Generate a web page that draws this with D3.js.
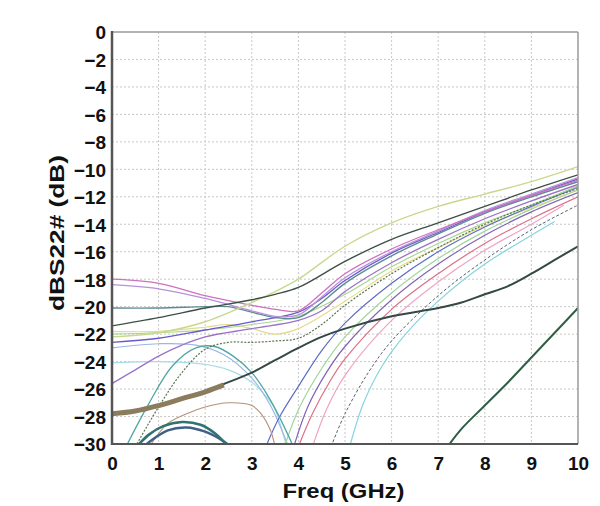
<!DOCTYPE html>
<html>
<head>
<meta charset="utf-8">
<script src="https://cdn.jsdelivr.net/npm/d3@7"></script>
<style>
  html, body { margin: 0; padding: 0; background: #fff; }
  svg { display: block; }
  text { font-family: "Liberation Sans", Arial, sans-serif; font-weight: bold; fill: #111; }
</style>
</head>
<body>
<svg id="chart" width="600" height="506"></svg>
<script>
// ---- tick labels / axis text ----
const xTicks = [0, 1, 2, 3, 4, 5, 6, 7, 8, 9, 10];
const yTicks = [0, -2, -4, -6, -8, -10, -12, -14, -16, -18, -20, -22, -24, -26, -28, -30];
const xTitle = "Freq (GHz)";
const yTitle = "dBS22# (dB)";

// ---- series values: [freq GHz, dB] ----
const sYellowTop   = [[0,-22.2],[1,-21.9],[2,-21.1],[3,-19.7],[3.5,-18.9],[4,-18.0],[5,-15.6],[6,-13.9],[7,-12.7],[8,-11.8],[9,-10.9],[10,-9.8]];
const sDarkTop     = [[0,-21.4],[1,-20.8],[2,-20.1],[3,-19.5],[3.5,-19.1],[4,-18.6],[5,-16.7],[6,-15.1],[7,-13.9],[8,-12.7],[9,-11.5],[10,-10.4]];
const sPink        = [[0,-18.0],[1,-18.3],[2,-19.2],[3,-19.9],[3.5,-20.2],[4,-20.3],[4.5,-19.0],[5,-17.6],[6,-15.8],[7,-14.4],[8,-13.1],[9,-11.9],[10,-10.8]];
const sLilac       = [[0,-18.4],[1,-18.7],[2,-19.4],[3,-20.3],[3.5,-20.7],[4,-20.6],[4.5,-19.3],[5,-17.9],[6,-16.0],[7,-14.5],[8,-13.0],[9,-11.8],[10,-10.6]];
const sTealGray    = [[0,-20.1],[1,-20.1],[2,-20.0],[2.5,-20.0],[3,-20.4],[3.5,-20.8],[4,-20.8],[4.5,-19.7],[5,-18.3],[6,-16.3],[7,-14.7],[8,-13.2],[9,-12.0],[10,-10.9]];
const sSlateBlue   = [[0,-22.6],[1,-22.3],[2,-21.7],[3,-21.1],[4,-20.4],[4.5,-19.4],[5,-18.1],[6,-16.1],[7,-14.6],[8,-13.1],[9,-11.9],[10,-10.7]];
const sPurpleRise  = [[0,-25.6],[0.5,-24.6],[1,-23.6],[1.5,-22.8],[2,-22.2],[3,-21.6],[4,-21.0],[4.5,-20.3],[5,-18.9],[6,-16.8],[7,-15.1],[8,-13.6],[9,-12.3],[10,-11.1]];
const sLightGreen  = [[0,-22.0],[1,-21.9],[2,-21.7],[3,-21.3],[4,-20.7],[5,-19.1],[6,-17.1],[7,-15.4],[8,-13.9],[9,-12.6],[10,-11.2]];
const sYellow      = [[0,-21.8],[1,-21.8],[2,-21.5],[2.5,-21.3],[3,-21.6],[3.5,-22.0],[4,-21.6],[5,-19.6],[6,-17.4],[7,-15.7],[8,-14.1],[9,-12.8],[10,-11.5]];
const sOliveDot    = [[0.5,-30.2],[1,-27.3],[1.5,-24.8],[2,-23.1],[2.5,-22.6],[3,-22.6],[3.5,-22.5],[4,-22.3],[4.5,-21.3],[5,-19.9],[6,-17.6],[7,-15.7],[8,-14.0],[9,-12.6],[10,-11.4]];
const sTealArch    = [[0.3,-30.2],[0.8,-27.0],[1.3,-24.3],[1.8,-23.0],[2.2,-22.9],[2.6,-23.6],[3,-24.8],[3.4,-26.8],[3.8,-29.5],[3.9,-30.3]];
const sLightBlue   = [[0,-23.0],[1,-22.7],[1.8,-22.8],[2.4,-23.5],[3,-25.2],[3.4,-27.2],[3.8,-30.3]];
const sLightCyan   = [[0,-24.1],[1,-24.0],[2,-24.2],[2.5,-24.6],[3,-25.5],[3.3,-26.5],[3.5,-27.5],[3.75,-30.3]];
const sThickDark   = [[0,-27.8],[0.5,-27.6],[1,-27.2],[1.5,-26.7],[2,-26.2],[2.5,-25.5],[3,-24.8],[3.5,-23.9],[4,-23.0],[4.5,-22.2],[5,-21.6],[6,-20.7],[7,-20.1],[7.5,-19.7],[8,-19.1],[8.5,-18.5],[9,-17.6],[9.5,-16.6],[10,-15.6]];
const sBrownMark   = [[0,-27.8],[0.5,-27.6],[1,-27.2],[1.5,-26.7],[2,-26.2],[2.4,-25.7]];
const sArcTeal     = [[0.5,-30.3],[0.8,-29.3],[1.1,-28.7],[1.5,-28.4],[1.9,-28.6],[2.2,-29.2],[2.5,-30.2]];
const sArcBlue     = [[0.6,-30.4],[0.9,-29.6],[1.2,-29.0],[1.6,-28.8],[2.0,-29.1],[2.3,-29.6],[2.6,-30.3]];
const sBrownThin   = [[0.8,-30.2],[1.2,-28.5],[1.6,-27.8],[2,-27.3],[2.5,-27.0],[3,-27.2],[3.2,-27.8],[3.4,-29.0],[3.5,-30.2]];
const sSteepBlue   = [[3.3,-30.2],[3.6,-28.0],[4,-25.8],[4.5,-23.2],[5,-21.2],[6,-18.3],[7,-16.0],[8,-14.2],[9,-12.7],[10,-11.3]];
const sSteepGreen  = [[3.7,-30.2],[4,-27.5],[4.5,-24.5],[5,-22.2],[6,-19.0],[7,-16.5],[8,-14.5],[9,-12.9],[10,-11.5]];
const sSteepPurple = [[3.9,-30.2],[4.2,-27.3],[4.6,-24.8],[5,-22.9],[6,-19.5],[7,-16.9],[8,-14.8],[9,-13.1],[10,-11.7]];
const sSteepPink   = [[4.0,-30.2],[4.3,-27.8],[4.7,-25.3],[5,-23.8],[6,-20.2],[7,-17.6],[8,-15.4],[9,-13.6],[10,-12.0]];
const sSteepRose   = [[4.3,-30.2],[4.6,-27.5],[5,-25.0],[6,-21.0],[7,-18.2],[8,-15.9],[9,-14.0],[9.7,-12.6]];
const sSteepDash   = [[4.7,-30.2],[5,-27.8],[5.5,-24.8],[6,-22.5],[7,-19.2],[8,-16.6],[9,-14.4],[10,-12.6]];
const sSteepCyan   = [[5.1,-30.2],[5.4,-27.0],[5.8,-24.3],[6.3,-22.0],[7,-19.6],[8,-16.9],[9,-14.8],[9.5,-13.8]];
const sLowDark     = [[7.2,-30.2],[7.5,-28.9],[8,-27.2],[8.5,-25.5],[9,-23.7],[9.5,-21.9],[10,-20.1]];

const seriesList = [
  { v: sLightCyan,   c: "#a8dce6", w: 1.2 },
  { v: sLightBlue,   c: "#9bb6e6", w: 1.2 },
  { v: sYellow,      c: "#e4dc8a", w: 1.2 },
  { v: sLightGreen,  c: "#a6d88e", w: 1.2 },
  { v: sSteepCyan,   c: "#86d4dc", w: 1.2 },
  { v: sSteepRose,   c: "#f0a4c4", w: 1.2 },
  { v: sSteepGreen,  c: "#9fd69a", w: 1.2 },
  { v: sSteepDash,   c: "#556270", w: 1.0, d: "3,2" },
  { v: sSteepPink,   c: "#dc6f86", w: 1.2 },
  { v: sSteepPurple, c: "#8064b4", w: 1.2 },
  { v: sSteepBlue,   c: "#5c6cc8", w: 1.2 },
  { v: sBrownThin,   c: "#b4927a", w: 1.1 },
  { v: sTealArch,    c: "#4fa8a0", w: 1.3 },
  { v: sOliveDot,    c: "#5b7452", w: 1.2, d: "2,1.5" },
  { v: sPurpleRise,  c: "#9c72c8", w: 1.3 },
  { v: sSlateBlue,   c: "#6a5acd", w: 1.3 },
  { v: sTealGray,    c: "#5e8a92", w: 1.4 },
  { v: sLilac,       c: "#b592da", w: 1.3 },
  { v: sPink,        c: "#d070c0", w: 1.3 },
  { v: sYellowTop,   c: "#c9d88e", w: 1.4 },
  { v: sDarkTop,     c: "#3d5046", w: 1.4 },
  { v: sArcBlue,     c: "#3f5f86", w: 2.4 },
  { v: sArcTeal,     c: "#2f7472", w: 2.6 },
  { v: sThickDark,   c: "#344846", w: 2.0 },
  { v: sBrownMark,   c: "#8a7c5c", w: 5.0 },
  { v: sLowDark,     c: "#2f5e44", w: 2.0 }
];

// ---- layout ----
const svg = d3.select("#chart");
const m = { left: 112, right: 578, top: 32, bottom: 444 };
const x = d3.scaleLinear().domain([0, 10]).range([m.left, m.right]);
const y = d3.scaleLinear().domain([0, -30]).range([m.top, m.bottom]);

svg.append("defs").append("clipPath").attr("id", "clip")
  .append("rect").attr("x", m.left).attr("y", m.top)
  .attr("width", m.right - m.left).attr("height", m.bottom - m.top);

// grid
const grid = svg.append("g");
grid.selectAll("line.vx").data(xTicks.slice(1, -1)).join("line")
  .attr("x1", d => x(d)).attr("x2", d => x(d))
  .attr("y1", m.top).attr("y2", m.bottom)
  .attr("stroke", "#c8c8c8").attr("stroke-width", 1).attr("stroke-dasharray", "2,2");
grid.selectAll("line.hy").data(yTicks.slice(1, -1)).join("line")
  .attr("y1", d => y(d)).attr("y2", d => y(d))
  .attr("x1", m.left).attr("x2", m.right)
  .attr("stroke", "#c8c8c8").attr("stroke-width", 1).attr("stroke-dasharray", "2,2");

// lines
const line = d3.line().x(d => x(d[0])).y(d => y(d[1])).curve(d3.curveCatmullRom.alpha(0.5));
const lg = svg.append("g").attr("clip-path", "url(#clip)");
lg.selectAll("path").data(seriesList).join("path")
  .attr("d", s => line(s.v))
  .attr("fill", "none")
  .attr("stroke", s => s.c)
  .attr("stroke-width", s => s.w)
  .attr("stroke-dasharray", s => s.d || null)
  .attr("stroke-linejoin", "round");

// frame
svg.append("line").attr("x1", m.left).attr("x2", m.right).attr("y1", m.top).attr("y2", m.top)
  .attr("stroke", "#9a9a9a").attr("stroke-width", 1.5);
svg.append("line").attr("x1", m.right).attr("x2", m.right).attr("y1", m.top).attr("y2", m.bottom)
  .attr("stroke", "#9a9a9a").attr("stroke-width", 1.5);
svg.append("line").attr("x1", m.left).attr("x2", m.right).attr("y1", m.bottom).attr("y2", m.bottom)
  .attr("stroke", "#555").attr("stroke-width", 2.2);
svg.append("line").attr("x1", m.left).attr("x2", m.left).attr("y1", m.top - 1).attr("y2", m.bottom + 1)
  .attr("stroke", "#555").attr("stroke-width", 2.5);

// axes labels via d3 axes (no tick lines)
const fmt = d => (d < 0 ? "\u2212" + Math.abs(d) : String(d));
const yAxis = svg.append("g").attr("transform", `translate(${m.left - 6},0)`)
  .call(d3.axisLeft(y).tickValues(yTicks).tickFormat(fmt).tickSize(0).tickPadding(0));
yAxis.select(".domain").remove();
yAxis.selectAll("text").attr("font-size", 19).attr("font-family", "Liberation Sans, Arial, sans-serif")
  .attr("font-weight", "bold").attr("fill", "#111").attr("dy", "0.36em");

const xAxis = svg.append("g").attr("transform", `translate(0,${m.bottom + 12})`)
  .call(d3.axisBottom(x).tickValues(xTicks).tickFormat(fmt).tickSize(0).tickPadding(0));
xAxis.select(".domain").remove();
xAxis.selectAll("text").attr("font-size", 19).attr("font-family", "Liberation Sans, Arial, sans-serif")
  .attr("font-weight", "bold").attr("fill", "#111").attr("dy", "0.71em");

svg.append("text").attr("x", 343.5).attr("y", 498).attr("text-anchor", "middle")
  .attr("font-size", 20).attr("textLength", 122).attr("lengthAdjust", "spacingAndGlyphs")
  .text(xTitle);
svg.append("text").attr("transform", "translate(64,233) rotate(-90)").attr("text-anchor", "middle")
  .attr("font-size", 20).attr("textLength", 156).attr("lengthAdjust", "spacingAndGlyphs")
  .text(yTitle);
</script>
</body>
</html>
